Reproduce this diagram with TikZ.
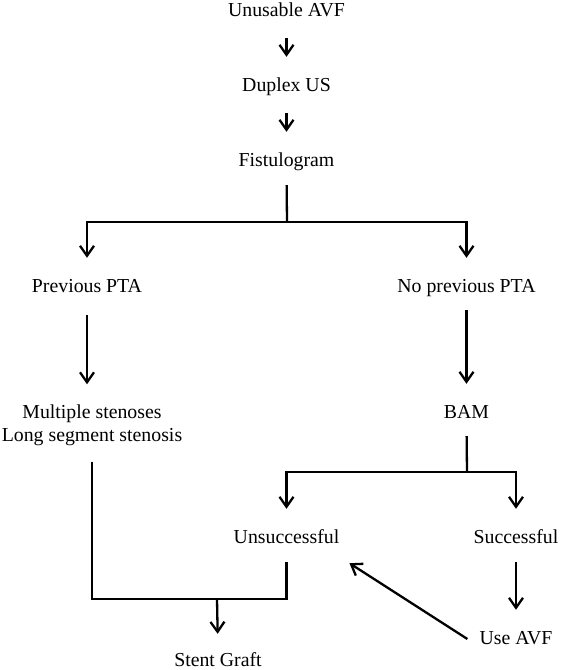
\documentclass[tikz,border=0pt]{standalone}
\usepackage{fontspec}
\setmainfont{Liberation Serif}
\usetikzlibrary{arrows.meta}

\begin{document}
\begin{tikzpicture}[x=1pt, y=-1pt,
    txt/.style={inner sep=0pt, font=\fontsize{19.8}{23}\selectfont},
    lbl/.style={txt, anchor=base, text height=14pt, text depth=4pt},
    wire/.style={line width=2.3pt},
    arr/.style={wire, -{Straight Barb[length=10pt, width=14pt]}, shorten >=20pt}]
    \useasboundingbox (0,0) rectangle (561,670);

    % Steps
    \node[lbl] (avf) at (286.5,16) {Unusable AVF};
    \node[lbl] (duplex) at (286.5,91) {Duplex US};
    \node[lbl] (fist) at (286.5,166) {Fistulogram};
    \node[lbl] (prev) at (87,292) {Previous PTA};
    \node[lbl] (noprev) at (466.5,292) {No previous PTA};
    \node[txt, align=center] (multi) at (92,425) {Multiple stenoses\\Long segment stenosis};
    \node[lbl] (bam) at (466.5,418) {BAM};
    \node[lbl] (unsucc) at (286.5,543) {Unsuccessful};
    \node[lbl] (succ) at (516,543) {Successful};
    \node[lbl] (useavf) at (516,644) {Use AVF};
    \node[lbl] (stent) at (218,666) {Stent Graft};

    % Branch points
    \coordinate (split1) at (287,222);
    \coordinate (split2) at (467,472);
    \coordinate (merge) at (217,599);

    % Arrows
    \draw[arr, shorten <=18pt] (avf.south) -- (duplex.north);
    \draw[arr, shorten <=18pt] (duplex.south) -- (fist.north);
    \draw[wire, shorten <=15pt] (fist.south) -- (split1);
    \draw[arr] (split1) -| (prev.north);
    \draw[arr] (split1) -| (noprev.north);
    \draw[arr, shorten <=19pt] (prev.south) -- (prev.south |- multi.north);
    \draw[arr, shorten <=14pt] (noprev.south) -- (bam.north);
    \draw[wire, shorten <=14pt] (bam.south) -- (split2);
    \draw[arr] (split2) -| (unsucc.north);
    \draw[arr] (split2) -| (succ.north);
    \draw[arr, shorten <=15pt] (succ.south) -- (useavf.north);
    \draw[wire] ([yshift=-16pt]multi.south) |- (merge) -| ([yshift=-15pt]unsucc.south);
    \draw[arr, shorten >=18pt] (merge) -- (stent.north);

    % Back to unsuccessful
    \draw[arr, shorten >=0pt] ([xshift=-12pt]useavf.west) -- ([xshift=10pt, yshift=-16pt]unsucc.south east);
\end{tikzpicture}
\end{document}
